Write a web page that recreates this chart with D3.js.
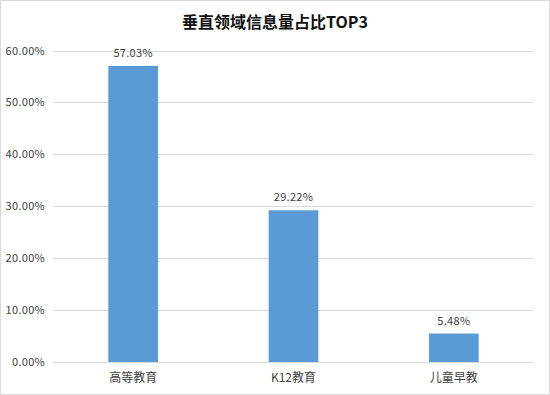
<!DOCTYPE html>
<html>
<head>
<meta charset="utf-8">
<script src="https://cdn.jsdelivr.net/npm/d3@7"></script>
<style>
  body { margin: 0; background: #fff; }
  svg { display: block; font-family: "Noto Sans CJK SC", "DejaVu Sans", sans-serif; }
</style>
</head>
<body>
<svg id="viz"></svg>
<script>
var categories = ["高等教育", "K12教育", "儿童早教"];
var shares = [0.5703, 0.2922, 0.0548];
var yTicks = [0, 0.1, 0.2, 0.3, 0.4, 0.5, 0.6];

var width = 550, height = 395;
var plotLeft = 53, plotRight = 534, plotTop = 50.5, plotBottom = 362;

var svg = d3.select("#viz").attr("width", width).attr("height", height);

// chart border
svg.append("rect")
    .attr("x", 0.5).attr("y", 0.5)
    .attr("width", width - 1).attr("height", height - 1)
    .attr("fill", "#fff")
    .attr("stroke", "#d9d9d9");

var x = d3.scaleBand().domain(categories).range([plotLeft, plotRight]).paddingInner(0.69).paddingOuter(0.345);
var y = d3.scaleLinear().domain([0, 0.6]).range([plotBottom, plotTop]);
var fmt = d3.format(".2%");

svg.append("text")
    .attr("x", width / 2).attr("y", 28)
    .attr("text-anchor", "middle")
    .attr("font-size", 16).attr("font-weight", "bold")
    .attr("fill", "#111")
    .text("垂直领域信息量占比TOP3");

// gridlines
svg.append("g").selectAll("line")
    .data(yTicks)
    .enter().append("line")
    .attr("x1", plotLeft).attr("x2", plotRight)
    .attr("y1", function(d) { return Math.round(y(d)) + 0.5; })
    .attr("y2", function(d) { return Math.round(y(d)) + 0.5; })
    .attr("stroke", "#d9d9d9")
    .attr("stroke-width", 1);

svg.append("g").selectAll("text")
    .data(yTicks)
    .enter().append("text")
    .attr("x", 45)
    .attr("y", function(d) { return y(d) + 4; })
    .attr("text-anchor", "end")
    .attr("font-size", 11)
    .attr("letter-spacing", 0.3)
    .attr("fill", "#404040")
    .text(fmt);

// bars
svg.append("g").selectAll("rect")
    .data(shares)
    .enter().append("rect")
    .attr("x", function(d, i) { return x(categories[i]); })
    .attr("y", function(d) { return y(d); })
    .attr("width", x.bandwidth())
    .attr("height", function(d) { return y(0) - y(d); })
    .attr("fill", "#5b9bd5");

svg.append("g").selectAll("text")
    .data(shares)
    .enter().append("text")
    .attr("x", function(d, i) { return x(categories[i]) + x.bandwidth() / 2; })
    .attr("y", function(d) { return y(d) - 9; })
    .attr("text-anchor", "middle")
    .attr("font-size", 11)
    .attr("letter-spacing", 0.3)
    .attr("fill", "#404040")
    .text(fmt);

// x axis line
svg.append("line")
    .attr("x1", plotLeft).attr("x2", plotRight)
    .attr("y1", plotBottom + 0.5).attr("y2", plotBottom + 0.5)
    .attr("stroke", "#d9d9d9");

svg.append("g").selectAll("text")
    .data(categories)
    .enter().append("text")
    .attr("x", function(d) { return x(d) + x.bandwidth() / 2; })
    .attr("y", 382)
    .attr("text-anchor", "middle")
    .attr("font-size", 12)
    .attr("fill", "#404040")
    .text(function(d) { return d; });
</script>
</body>
</html>
